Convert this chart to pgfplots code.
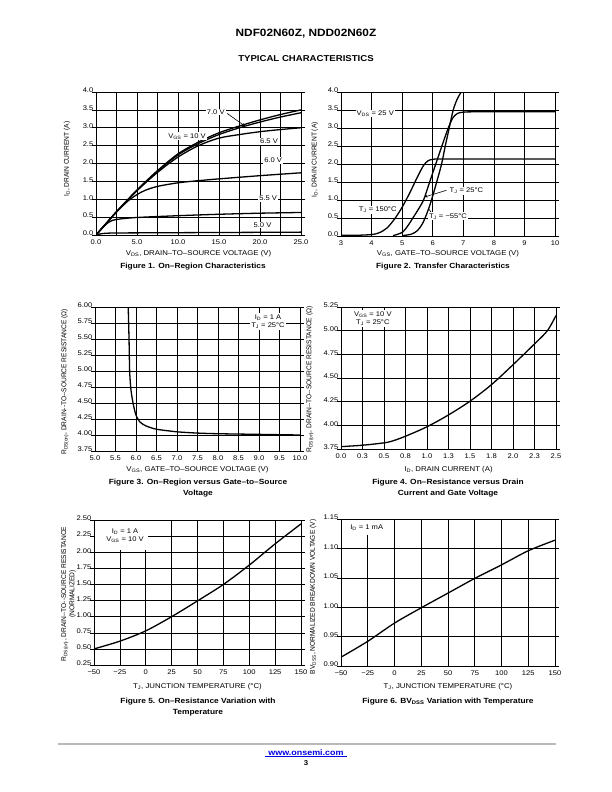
\documentclass[border=0pt]{standalone}
\usepackage{fontspec}
\setmainfont{Liberation Sans}[FakeStretch=1.12]
\newfontfamily\vfont{Liberation Sans}[FakeStretch=0.95]
\usepackage{pgfplots}
\pgfplotsset{compat=1.18}
\usetikzlibrary{arrows.meta}
\newcommand\tk{\fontsize{6.8}{8}\selectfont}
\newcommand\lb{\fontsize{7}{8.4}\selectfont}
\newcommand\vl{\vfont\fontsize{7}{8.4}\selectfont}
\newcommand\cp{\bfseries\fontsize{7.5}{9}\selectfont}
\newcommand\sub[1]{\textsubscript{#1}}
\tikzset{box/.style={fill=white, font=\tk, inner sep=1bp, align=center}}
\pgfplotsset{
  ds/.style={
    scale only axis, anchor=south west,
    axis line style={line width=0.8bp},
    grid=major, major grid style={black, line width=0.55bp},
    xtick align=inside, ytick align=outside,
    major tick length=4bp,
    tick style={black, line width=0.55bp},
    ticklabel style={font=\tk},
    xticklabel style={yshift=-1bp},
    yticklabel style={xshift=2.5bp, yshift=1.5bp, inner sep=1bp},
    xlabel style={font=\lb, at={(axis description cs:0.5,0)}, anchor=base},
    ylabel style={font=\vl, anchor=center},
    /pgf/number format/assume math mode=true,
    every axis plot/.append style={line width=1.3bp, black, no markers},
  },
  p1/.style={yticklabel style={/pgf/number format/.cd, fixed, fixed zerofill, precision=1}},
  p2/.style={yticklabel style={/pgf/number format/.cd, fixed, fixed zerofill, precision=2}},
}
\begin{document}
\begin{tikzpicture}
\useasboundingbox[fill=white] (0,0) rectangle (612bp,-792bp);
% header
\node[font=\bfseries\fontsize{10.6}{12}\selectfont, anchor=base] at (306bp,-36bp) {NDF02N60Z, NDD02N60Z};
\node[font=\bfseries\fontsize{8.6}{10}\selectfont, anchor=base] at (306bp,-61bp) {TYPICAL CHARACTERISTICS};

% ---------- Figure 1
\begin{axis}[ds, p1, at={(96bp,-235bp)}, width=205bp, height=143bp,
  xmin=0, xmax=25, ymin=0, ymax=4,
  xtick={0,2.5,5,7.5,10,12.5,15,17.5,20,22.5,25},
  xticklabels={0.0,,5.0,,10.0,,15.0,,20.0,,25.0},
  ytick={0,0.5,1,1.5,2,2.5,3,3.5,4},
  xlabel={V\sub{DS}, DRAIN--TO--SOURCE VOLTAGE (V)},
  xlabel style={yshift=-20.5bp},
  ylabel={I\sub{D}, DRAIN CURRENT (A)},
  ylabel style={at={(axis description cs:-0.141,0.53)}},
]
\addplot[smooth] coordinates {(0,0)(1,0.26)(2.5,0.65)(5,1.26)(7.5,1.8)(10,2.27)(12.5,2.6)(15,2.86)(17.5,3.05)(20,3.22)(22.5,3.37)(25,3.5)};
\addplot[smooth] coordinates {(0,0)(1,0.26)(2.5,0.65)(5,1.25)(7.5,1.78)(10,2.24)(12.5,2.56)(15,2.81)(17.5,3.0)(20,3.16)(22.5,3.3)(25,3.42)};
\addplot[smooth] coordinates {(0,0)(1,0.26)(2.5,0.65)(5,1.24)(7.5,1.75)(10,2.18)(12.5,2.5)(15,2.71)(17.5,2.81)(20,2.89)(22.5,2.95)(25,3.0)};
\addplot[smooth] coordinates {(0,0)(1,0.26)(2,0.52)(3,0.76)(4,0.97)(5,1.13)(6,1.25)(7.5,1.36)(10,1.46)(12.5,1.52)(15,1.57)(20,1.66)(25,1.74)};
\addplot[smooth] coordinates {(0,0)(0.5,0.13)(1,0.25)(1.5,0.35)(2,0.41)(3,0.45)(5,0.49)(10,0.54)(15,0.58)(20,0.61)(25,0.63)};
\addplot[smooth] coordinates {(0,0)(0.5,0.03)(1,0.045)(2,0.055)(5,0.06)(25,0.08)};
\draw[line width=0.6bp, -{Stealth[length=4bp,width=3bp]}] (axis cs:16.0,3.4) -- (axis cs:18.2,3.04);
\node[box] at (axis cs:14.6,3.44) {7.0 V};
\node[box] at (axis cs:11.1,2.76) {V\sub{GS} = 10 V};
\node[box] at (axis cs:21.1,2.62) {6.5 V};
\node[box] at (axis cs:21.6,2.09) {6.0 V};
\node[box] at (axis cs:21.0,1.02) {5.5 V};
\node[box] at (axis cs:20.3,0.28) {5.0 V};
\end{axis}
\node[font=\cp, anchor=base] at (193bp,-268.5bp) {Figure 1. On--Region Characteristics};

% ---------- Figure 2
\begin{axis}[ds, p1, at={(341bp,-236bp)}, width=214bp, height=144bp,
  xmin=3, xmax=10, ymin=0, ymax=4,
  xtick={3,4,5,6,7,8,9,10},
  ytick={0,0.5,1,1.5,2,2.5,3,3.5,4},
  xlabel={V\sub{GS}, GATE--TO--SOURCE VOLTAGE (V)},
  xlabel style={yshift=-19.5bp},
  ylabel={I\sub{D}, DRAIN CURRENT (A)},
  ylabel style={at={(axis description cs:-0.122,0.53)}},
]
\addplot[smooth, tension=0.5] coordinates {(3,0.02)(3.5,0.02)(4,0.04)(4.25,0.09)(4.5,0.22)(4.75,0.47)(5.0,0.8)(5.25,1.2)(5.5,1.64)(5.7,1.96)(5.85,2.09)(6.0,2.13)(6.3,2.14)(8,2.14)(10,2.14)};
\addplot[smooth, tension=0.5] coordinates {(4.7,0.01)(5.0,0.1)(5.2,0.3)(5.35,0.5)(5.5,0.7)(5.7,1.0)(5.9,1.5)(6.1,2.0)(6.3,2.5)(6.5,2.98)(6.65,3.27)(6.8,3.4)(7.0,3.44)(7.5,3.45)(10,3.45)};
\addplot[smooth, tension=0.5] coordinates {(5.0,0.01)(5.3,0.05)(5.5,0.15)(5.65,0.32)(5.75,0.5)(5.85,0.72)(5.96,1.0)(6.13,1.5)(6.29,2.0)(6.41,2.5)(6.54,3.0)(6.67,3.5)(6.8,3.8)(6.93,4.0)};
\node[box] at (axis cs:4.12,3.4) {V\sub{DS} = 25 V};
\draw[line width=0.6bp, -{Stealth[length=3.5bp,width=2.5bp]}] (axis cs:6.45,1.27) -- (axis cs:5.72,1.08);
\node[box] at (axis cs:7.1,1.25) {T\sub{J} = 25°C};
\node[box] at (axis cs:4.2,0.72) {T\sub{J} = 150°C};
\draw[line width=0.6bp] (axis cs:6.0,0.6) -- (axis cs:5.88,0.74);
\node[box] at (axis cs:6.5,0.55) {T\sub{J} = −55°C};
\end{axis}
\node[font=\cp, anchor=base] at (443bp,-268.5bp) {Figure 2. Transfer Characteristics};

% ---------- Figure 3
\begin{axis}[ds, p2, at={(95bp,-451bp)}, width=205bp, height=144bp,
  xmin=5, xmax=10, ymin=3.75, ymax=6,
  xtick={5,5.5,6,6.5,7,7.5,8,8.5,9,9.5,10},
  xticklabel style={/pgf/number format/.cd, fixed, fixed zerofill, precision=1},
  ytick={3.75,4,4.25,4.5,4.75,5,5.25,5.5,5.75,6},
  xlabel={V\sub{GS}, GATE--TO--SOURCE VOLTAGE (V)},
  xlabel style={yshift=-20.5bp},
  ylabel={R\sub{DS(on)}, DRAIN--TO--SOURCE RESISTANCE (Ω)},
  ylabel style={at={(axis description cs:-0.146,0.48)}},
]
\addplot[smooth, tension=0.4] coordinates {(5.81,6.0)(5.83,5.5)(5.845,5.0)(5.87,4.75)(5.9,4.6)(5.94,4.46)(6.0,4.31)(6.1,4.2)(6.25,4.14)(6.5,4.09)(7.0,4.05)(7.5,4.03)(8,4.02)(9,4.01)(10,4.0)};
\node[box, inner sep=1.5bp] at (axis cs:9.22,5.77) {I\sub{D} = 1 A\\T\sub{J} = 25°C};
\end{axis}
\node[font=\cp, anchor=base] at (198bp,-484.5bp) {Figure 3. On--Region versus Gate--to--Source};
\node[font=\cp, anchor=base] at (198bp,-495.5bp) {Voltage};

% ---------- Figure 4
\begin{axis}[ds, p2, at={(341bp,-449bp)}, width=215bp, height=142bp,
  xmin=0, xmax=2.5, ymin=3.75, ymax=5.25,
  xtick={0,0.25,0.5,0.75,1,1.25,1.5,1.75,2,2.25,2.5},
  xticklabels={0.0,0.3,0.5,0.8,1.0,1.3,1.5,1.8,2.0,2.3,2.5},
  ytick={3.75,4,4.25,4.5,4.75,5,5.25},
  xlabel={I\sub{D}, DRAIN CURRENT (A)},
  xlabel style={yshift=-22.5bp},
  ylabel={R\sub{DS(on)}, DRAIN--TO--SOURCE RESISTANCE (Ω)},
  ylabel style={at={(axis description cs:-0.144,0.49)}},
]
\addplot[smooth] coordinates {(0,3.775)(0.25,3.79)(0.5,3.815)(0.6,3.835)(0.75,3.885)(1.0,3.985)(1.25,4.11)(1.5,4.255)(1.75,4.43)(2.0,4.64)(2.25,4.86)(2.4,5.0)(2.5,5.16)};
\node[box, inner sep=1.5bp] at (axis cs:0.37,5.13) {V\sub{GS} = 10 V\\T\sub{J} = 25°C};
\end{axis}
\node[font=\cp, anchor=base] at (448bp,-484.5bp) {Figure 4. On--Resistance versus Drain};
\node[font=\cp, anchor=base] at (448bp,-495.5bp) {Current and Gate Voltage};

% ---------- Figure 5
\begin{axis}[ds, p2, at={(94bp,-665bp)}, width=207bp, height=145bp,
  xmin=-50, xmax=150, ymin=0.25, ymax=2.5,
  xtick={-50,-25,0,25,50,75,100,125,150},
  xticklabels={−50,−25,0,25,50,75,100,125,150},
  ytick={0.25,0.5,0.75,1,1.25,1.5,1.75,2,2.25,2.5},
  xlabel={T\sub{J}, JUNCTION TEMPERATURE (°C)},
  xlabel style={yshift=-23.5bp},
  ylabel={R\sub{DS(on)}, DRAIN--TO--SOURCE RESISTANCE\\(NORMALIZED)},
  ylabel style={align=center, at={(axis description cs:-0.123,0.49)}},
]
\addplot[smooth] coordinates {(-50,0.5)(-25,0.62)(0,0.78)(25,1.0)(50,1.245)(75,1.5)(100,1.8)(125,2.13)(150,2.44)};
\fill[white] (axis cs:-49,2.48) rectangle (axis cs:2,2.03);
\node[box] at (axis cs:-20,2.255) {I\sub{D} = 1 A\\V\sub{GS} = 10 V};
\end{axis}
\node[font=\cp, anchor=base] at (198bp,-703.5bp) {Figure 5. On--Resistance Variation with};
\node[font=\cp, anchor=base] at (198bp,-714.5bp) {Temperature};

% ---------- Figure 6
\begin{axis}[ds, p2, at={(341bp,-666bp)}, width=214bp, height=147bp,
  xmin=-50, xmax=150, ymin=0.9, ymax=1.15,
  xtick={-50,-25,0,25,50,75,100,125,150},
  xticklabels={−50,−25,0,25,50,75,100,125,150},
  ytick={0.9,0.95,1,1.05,1.1,1.15},
  xlabel={T\sub{J}, JUNCTION TEMPERATURE (°C)},
  xlabel style={yshift=-22.5bp},
  ylabel={BV\sub{DSS}, NORMALIZED BREAKDOWN VOLTAGE (V)},
  ylabel style={at={(axis description cs:-0.131,0.47)}},
]
\addplot[smooth] coordinates {(-50,0.915)(-25,0.942)(0,0.973)(25,0.999)(50,1.024)(75,1.049)(100,1.072)(125,1.096)(150,1.114)};
\fill[white] (axis cs:-49,1.148) rectangle (axis cs:-3,1.122);
\node[box] at (axis cs:-26,1.136) {I\sub{D} = 1 mA};
\end{axis}
\node[font=\cp, anchor=base] at (448bp,-703.5bp) {Figure 6. BV\sub{DSS} Variation with Temperature};

% footer
\draw[line width=1.6bp, color=black!27] (58bp,-744bp) -- (556bp,-744bp);
\node[font=\bfseries\fontsize{8}{9}\selectfont, text=blue!90!black, anchor=base] (web) at (306bp,-755.5bp) {www.onsemi.com};
\draw[blue!90!black, line width=0.6bp] ([yshift=-1bp]web.base west) -- ([yshift=-1bp]web.base east);
\node[font=\bfseries\fontsize{7}{8}\selectfont, anchor=base] at (306bp,-765.5bp) {3};
\end{tikzpicture}
\end{document}
